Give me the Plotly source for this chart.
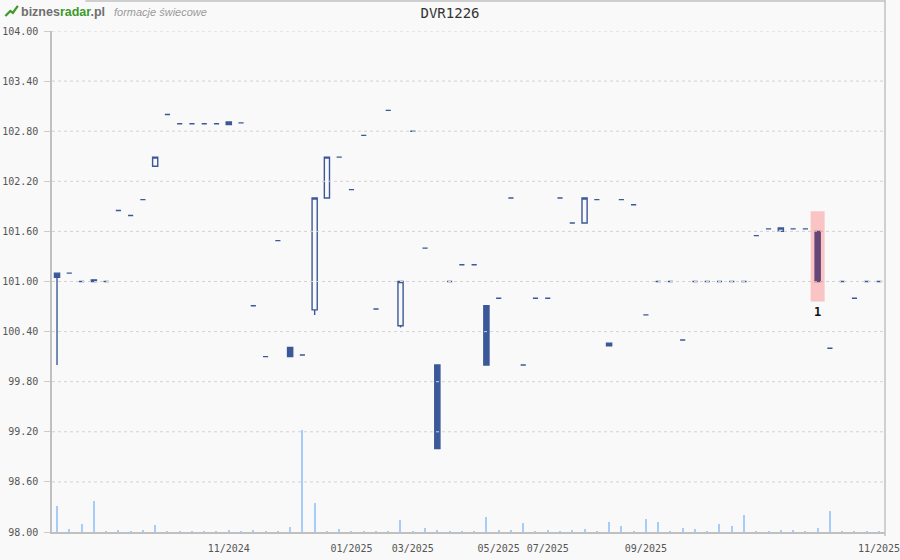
import plotly.graph_objects as go

# ---------------- data ----------------
tick_pos = [14, 24, 29, 36, 40, 48, 67]
tick_labels = ["11/2024", "01/2025", "03/2025", "05/2025", "07/2025", "09/2025", "11/2025"]

y_ticks = [98.00, 98.60, 99.20, 99.80, 100.40, 101.00, 101.60, 102.20, 102.80, 103.40, 104.00]

open_ = [101.10, 101.10, 101.00, 101.02, 101.00, 101.85, 101.79, 101.98, 102.38, 103.00,
         102.89, 102.89, 102.89, 102.89, 102.91, 102.90, 100.71, 100.10, 101.49, 100.21,
         100.12, 100.66, 102.00, 102.49, 102.10, 102.75, 100.67, 103.05, 100.47, 102.80,
         101.40, 100.00, 101.00, 101.20, 101.20, 100.71, 100.80, 102.00, 100.00, 100.80,
         100.80, 102.00, 101.70, 101.70, 101.98, 100.26, 101.98, 101.92, 100.60, 101.00,
         101.00, 100.30, 101.00, 101.00, 101.00, 101.00, 101.00, 101.55, 101.63, 101.60,
         101.63, 101.63, 101.60, 100.20, 101.00, 100.80, 101.00, 101.00]

high = [101.10, 101.10, 101.00, 101.02, 101.00, 101.85, 101.79, 101.98, 102.49, 103.00,
        102.89, 102.89, 102.89, 102.89, 102.91, 102.90, 100.71, 100.10, 101.49, 100.21,
        100.12, 102.00, 102.49, 102.49, 102.10, 102.75, 100.67, 103.05, 101.00, 102.80,
        101.40, 100.00, 101.00, 101.20, 101.20, 100.71, 100.80, 102.00, 100.00, 100.80,
        100.80, 102.00, 101.70, 102.00, 101.98, 100.26, 101.98, 101.92, 100.60, 101.00,
        101.00, 100.30, 101.00, 101.00, 101.00, 101.00, 101.00, 101.55, 101.63, 101.64,
        101.63, 101.63, 101.60, 100.20, 101.00, 100.80, 101.00, 101.00]

low = [100.00, 101.10, 101.00, 101.00, 101.00, 101.85, 101.79, 101.98, 102.38, 103.00,
       102.89, 102.89, 102.89, 102.89, 102.88, 102.90, 100.71, 100.10, 101.49, 100.10,
       100.12, 100.60, 102.00, 102.49, 102.10, 102.75, 100.67, 103.05, 100.45, 102.80,
       101.40, 99.00, 101.00, 101.20, 101.20, 100.00, 100.80, 102.00, 100.00, 100.80,
       100.80, 102.00, 101.70, 101.70, 101.98, 100.23, 101.98, 101.92, 100.60, 101.00,
       101.00, 100.30, 101.00, 101.00, 101.00, 101.00, 101.00, 101.55, 101.63, 101.60,
       101.63, 101.63, 101.00, 100.20, 101.00, 100.80, 101.00, 101.00]

close = [101.05, 101.10, 101.00, 101.00, 101.00, 101.85, 101.79, 101.98, 102.49, 103.00,
         102.89, 102.89, 102.89, 102.89, 102.88, 102.90, 100.71, 100.10, 101.49, 100.10,
         100.12, 102.00, 102.49, 102.49, 102.10, 102.75, 100.67, 103.05, 101.00, 102.80,
         101.40, 99.00, 101.00, 101.20, 101.20, 100.00, 100.80, 102.00, 100.00, 100.80,
         100.80, 102.00, 101.70, 102.00, 101.98, 100.23, 101.98, 101.92, 100.60, 101.00,
         101.00, 100.30, 101.00, 101.00, 101.00, 101.00, 101.00, 101.55, 101.63, 101.64,
         101.63, 101.63, 101.00, 100.20, 101.00, 100.80, 101.00, 101.00]

volume = [260, 30, 80, 310, 5, 20, 10, 25, 70, 5,
          5, 10, 10, 10, 20, 5, 20, 10, 5, 55,
          1020, 290, 10, 30, 10, 10, 5, 10, 120, 10,
          40, 25, 5, 5, 10, 150, 20, 20, 90, 10,
          20, 5, 20, 30, 5, 100, 60, 5, 130, 100,
          10, 40, 30, 10, 80, 60, 170, 10, 10, 20,
          20, 10, 40, 210, 5, 10, 5, 10]

pattern_index = [62]
pattern_label = ["1"]

sessions = list(range(len(open_)))

# ---------------- style ----------------
BLUE = "#3b5998"
VOLC = "#a6cdf7"
GRID = "#d2d2d2"
AXIS = "#c0c0c0"
BG = "#f9f9f9"
MONO = "DejaVu Sans Mono"

fig = go.Figure()

fig.add_trace(go.Bar(
    x=sessions, y=volume, yaxis="y2", width=0.09,
    marker=dict(color=VOLC, line=dict(width=0)),
    hoverinfo="skip", showlegend=False,
))

fig.add_trace(go.Candlestick(
    x=sessions, open=open_, high=high, low=low, close=close,
    increasing=dict(line=dict(color=BLUE, width=1.4), fillcolor="rgba(0,0,0,0)"),
    decreasing=dict(line=dict(color=BLUE, width=1.4), fillcolor=BLUE),
    whiskerwidth=0, showlegend=False,
))

shapes = []
# dotted gridlines drawn above the marks (as in the reference)
for v in y_ticks[1:]:
    shapes.append(dict(type="line", xref="paper", yref="y", x0=0, x1=1, y0=v, y1=v,
                       line=dict(color=GRID, width=1, dash="dot"), layer="above"))
# frame lines (right border and top border)
shapes.append(dict(type="line", xref="paper", yref="paper", x0=1, x1=1, y0=-0.008, y1=1.062,
                   line=dict(color=AXIS, width=1.5), layer="above"))
shapes.append(dict(type="line", xref="paper", yref="paper", x0=0.04, x1=1, y0=1.06, y1=1.06,
                   line=dict(color=AXIS, width=1.5), layer="above"))
# pattern highlight
for i in pattern_index:
    shapes.append(dict(type="rect", xref="x", yref="y", x0=i - 0.57, x1=i + 0.57,
                       y0=low[i] - 0.24, y1=high[i] + 0.24,
                       fillcolor="rgba(255,0,0,0.21)", line=dict(width=0), layer="above"))
# logo icon
shapes.append(dict(type="path", xref="paper", yref="paper",
                   path="M -0.0560 1.030 L -0.0500 1.040 L -0.0470 1.036 L -0.0410 1.050",
                   line=dict(color="#3c9a2a", width=2.2)))

annotations = []
for i, t in zip(pattern_index, pattern_label):
    annotations.append(dict(x=i, y=low[i] - 0.24, xref="x", yref="y", text=f"<b>{t}</b>",
                            showarrow=False, yanchor="top", yshift=-1,
                            font=dict(family=MONO, size=12, color="#111")))
annotations.append(dict(
    x=-0.0395, y=1.038, xref="paper", yref="paper", xanchor="left", yanchor="middle",
    showarrow=False,
    text="<b><span style='color:#6f6f6f'>biznes</span><span style='color:#3c9a2a'>radar</span>"
         "<span style='color:#6f6f6f'>.pl</span></b>",
    font=dict(family="Liberation Sans", size=12.5)))
annotations.append(dict(
    x=0.072, y=1.037, xref="paper", yref="paper", xanchor="left", yanchor="middle",
    showarrow=False, text="<i>formacje świecowe</i>",
    font=dict(family="Liberation Sans", size=11, color="#9a9a9a")))

fig.update_layout(
    width=900, height=560,
    margin=dict(l=52, r=15, t=31, b=28, autoexpand=False),
    paper_bgcolor=BG, plot_bgcolor=BG,
    title=dict(text="DVR1226", x=0.5, xanchor="center", y=1 - 13 / 560, yanchor="middle",
               xref="container", yref="container",
               font=dict(family=MONO, size=14, color="#333")),
    boxgap=0.4,
    bargap=0,
    xaxis=dict(range=[-0.41, 67.49], tickmode="array", tickvals=tick_pos, ticktext=tick_labels,
               showgrid=False, zeroline=False, showline=True, linecolor=AXIS, linewidth=1.5,
               ticks="outside", ticklen=6, tickcolor="rgba(0,0,0,0)",
               ticklabeloverflow="allow", automargin=False,
               tickfont=dict(family=MONO, size=10, color="#555"),
               rangeslider=dict(visible=False), fixedrange=True),
    yaxis=dict(range=[98, 104], tickmode="array", tickvals=y_ticks,
               ticktext=[f"{v:.2f}" for v in y_ticks],
               showgrid=False, zeroline=False, showline=True, linecolor=AXIS, linewidth=1.5,
               ticks="outside", ticklen=6, tickcolor="#cccccc",
               ticklabelstandoff=4, automargin=False, ticklabeloverflow="allow",
               tickfont=dict(family=MONO, size=10, color="#555")),
    yaxis2=dict(overlaying="y", range=[0, max(volume) * 4.91], visible=False,
                showgrid=False, zeroline=False, automargin=False),
    showlegend=False,
    annotations=annotations,
    shapes=shapes,
)

fig.write_html("out.html",
               config={"displayModeBar": False},
               post_script="document.body.style.margin='0';document.body.style.overflow='hidden';")
